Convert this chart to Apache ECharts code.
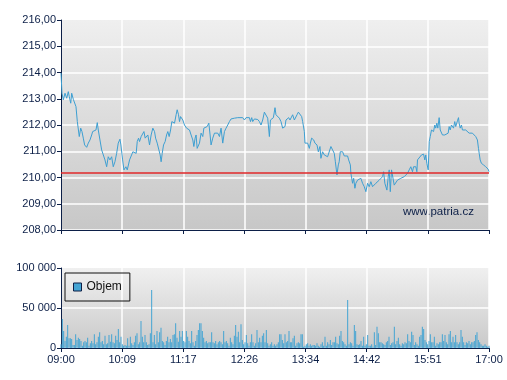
<!DOCTYPE html>
<html><head><meta charset="utf-8">
<script src="https://cdn.jsdelivr.net/npm/echarts@6/dist/echarts.min.js"></script>
<style>html,body{margin:0;padding:0;background:#fff}#c{width:507px;height:380px}</style>
</head><body><div id="c"></div>
<script>
// Time axis tick labels (session 09:00 - 17:00, 480 minutes split into 7 intervals)
const timeTickLabels = ['09:00','10:09','11:17','12:26','13:34','14:42','15:51','17:00'];
const sessionMinutes = 480;

// Price line: minutes after 09:00 and price
const priceTime = [0,1.1,2.6,4.5,6.4,8.2,9.3,10.9,12.0,13.8,15.7,16.8,18.3,19.4,20.5,22.1,23.5,25.0,26.5,28.8,30.6,32.5,34.4,35.5,37.0,39.2,40.7,41.8,43.7,45.6,47.4,49.3,51.2,53.0,54.9,56.8,58.6,60.5,62.4,64.2,66.1,67.2,69.1,70.6,72.8,74.3,
76.9,78.7,80.6,82.5,84.3,85.5,87.0,88.1,89.9,91.8,93.0,94.4,97.4,99.3,101.1,103.0,104.9,106.1,107.9,109.8,111.2,112.3,113.5,115.0,116.8,118.4,119.8,121.3,122.9,124.3,125.8,127.3,129.1,130.3,131.8,132.9,134.1,135.5,136.6,138.5,139.7,140.8,142.2,144.1,145.9,147.8,149.0,150.4,151.5,152.7,
155.3,157.1,159.0,160.2,161.6,163.9,165.8,167.2,168.3,170.2,172.1,173.9,175.8,177.7,179.5,181.4,183.3,185.1,187.0,188.9,190.7,192.6,194.5,196.3,198.2,203.8,205.7,207.5,211.3,212.5,213.9,215.0,216.9,218.7,220.6,222.5,224.3,226.2,228.1,229.9,231.8,
233.7,234.9,236.3,238.2,240.0,241.1,243.0,244.9,246.7,248.6,249.8,251.2,252.3,254.2,255.4,256.8,258.7,259.8,261.7,263.5,264.7,266.2,268.0,269.9,271.0,272.9,273.6,276.6,278.5,279.7,281.1,283.4,284.8,287.1,288.6,290.4,291.5,293.4,295.3,297.1,299.0,300.9,302.7,304.6,306.5,307.7,308.8,309.5,
311.0,312.0,313.2,315.8,317.7,321.4,322.6,324.5,325.1,327.0,328.2,329.6,330.7,332.6,334.5,336.3,338.2,340.1,341.9,343.8,345.7,347.5,349.4,351.3,353.1,355.0,356.9,358.7,360.6,361.8,363.2,365.5,367.0,368.1,369.3,370.7,371.8,373.7,375.5,377.4,379.3,381.1,383.0,384.9,386.7,388.6,
390.5,392.3,394.2,395.4,397.9,399.1,399.8,401.7,404.3,406.6,408.0,409.1,410.3,411.8,413.0,414.1,415.5,416.6,417.8,419.2,420.3,421.5,422.6,424.1,425.3,427.8,429.0,430.4,431.5,434.2,435.3,436.5,437.9,439.0,440.2,441.6,442.7,444.6,445.8,446.5,447.7,449.1,450.2,452.1,453.9,455.8,457.7,459.5,461.4,463.3,465.1,467.0,468.2,469.0,470.1,471.5,473.8,476.3,479.0,480];
const priceValue = [213.98,213.21,212.96,213.21,213.02,213.27,213.08,212.83,213.21,212.98,212.98,212.70,212.13,212.07,211.56,211.88,211.75,211.50,211.24,211.15,211.31,211.43,211.62,211.75,211.71,211.81,212.09,211.81,211.43,211.05,210.98,210.67,210.41,210.79,210.67,210.79,210.41,210.60,210.92,211.31,211.46,211.24,210.67,210.29,210.41,210.29,
210.67,210.73,210.98,210.96,210.92,211.37,211.50,211.37,211.56,211.62,211.75,211.50,211.62,211.24,211.62,211.88,211.75,211.50,211.31,211.05,210.86,210.60,210.92,211.24,211.37,211.62,211.75,211.56,211.81,212.13,212.19,212.07,212.39,212.58,212.39,212.13,212.32,212.26,212.19,212.00,212.07,211.88,211.94,211.81,211.62,211.43,211.18,211.50,211.62,211.11,
211.31,211.69,211.56,211.88,211.81,211.94,212.07,211.62,211.24,211.50,211.69,211.62,211.69,211.56,211.88,211.31,211.75,211.88,212.00,212.13,212.23,212.19,212.26,212.19,212.28,212.28,212.19,212.28,212.28,212.13,212.28,212.13,212.23,212.16,212.21,212.13,212.00,212.19,212.49,212.49,212.26,
211.56,212.19,212.26,212.28,212.66,212.39,212.39,212.26,212.13,211.88,211.81,211.94,212.19,212.19,212.28,212.19,212.26,212.39,212.19,212.19,212.39,212.49,212.49,212.32,212.13,211.75,211.31,211.31,211.11,211.31,211.50,211.43,211.31,211.24,210.98,211.18,210.73,210.98,210.86,210.79,210.79,210.86,211.18,211.05,210.92,210.60,210.29,210.10,
210.48,210.60,210.98,210.98,210.82,210.82,210.67,210.48,210.16,209.78,209.97,209.59,209.78,209.90,209.84,209.97,209.78,209.65,209.46,209.78,209.65,209.84,209.65,209.59,209.78,209.84,209.90,209.84,210.03,210.22,209.78,209.52,210.03,210.29,209.46,210.29,210.22,209.71,209.78,209.90,209.84,209.97,209.90,210.03,209.97,210.16,
210.29,210.41,210.22,210.41,210.41,210.22,210.67,210.73,210.86,210.89,210.67,210.86,210.54,210.29,211.37,211.56,211.81,211.88,211.75,212.00,211.88,212.07,211.88,212.28,211.81,211.62,211.69,211.62,211.56,211.69,211.94,211.81,212.00,212.07,211.88,212.13,211.94,212.16,212.28,212.07,211.88,212.00,211.81,211.88,211.81,211.81,211.69,211.62,211.69,211.62,211.56,211.43,211.11,210.92,210.67,210.54,210.48,210.41,210.32,210.22];

// Reference (previous close) price line
const referencePrice = 210.2;

// Traded volume per interval, in thousands, evenly spaced across the session
const volumeThousands = [4.6,36.3,21.3,8.8,14.2,28.8,12.1,12.1,11.3,3.8,3.8,17.1,10,12.9,11.3,8.8,2.9,7.1,8.8,7.1,12.9,2.9,5.8,8.8,5.8,17.1,4.6,7.1,14.2,19.6,7.1,8.8,4.6,15.4,4.6,5.8,16.3,7.9,17.1,7.1,5.8,15.4,10,23.8,7.1,14.2,4.6,2.9,3.8,2.9,12.1,2.9,14.2,5.8,3.8,7.1,15.4,18.3,4.6,7.1,33.8,14.2,7.1,16.3,7.1,3.8,4.6,18.3,72.5,7.1,16.3,4.6,21.3,7.1,19.6,25.4,8.8,7.1,3.8,8.8,14.2,7.1,11.3,7.1,16.3,17.1,30.8,12.9,7.9,21.3,14.2,21.3,8.8,7.1,21.3,14.2,8.8,5.8,21.3,7.1,2.9,8.8,16.3,22.5,30.8,30.8,21.3,12.9,7.1,8.8,5.8,7.1,7.1,19.6,7.1,5.8,8.8,4.6,7.1,8.8,7.1,4.6,21.3,7.1,8.8,5.8,2.9,12.9,7.1,4.6,15.4,28.8,14.2,20.4,7.1,29.6,10,4.6,7.1,16.3,5.8,2.9,7.1,
17.1,7.1,2.9,5.8,22.5,7.1,12.9,7.1,15.4,18.3,7.1,22.5,5.8,2.9,4.6,7.1,2.9,4.6,2.9,4.6,7.1,17.1,17.1,10,5.8,17.1,7.1,8.8,21.3,7.1,7.1,12.1,15.4,2.9,5.8,7.1,5.8,17.1,17.1,1.7,2.9,4.6,5.8,2.9,4.6,2.9,3.8,3.8,2.9,5.8,2.9,1.7,4.6,7.1,2.9,14.2,2.9,7.1,4.6,10,3.8,7.1,7.1,14.2,5.8,4.6,15.4,21.3,8.8,7.1,4.6,2.9,60,4.6,7.1,5.8,2.9,28.8,21.3,4.6,3.8,4.6,8.8,2.9,14.2,2.9,4.6,16.3,2.9,2.9,4.6,1.7,19.6,3.8,26.7,18.3,7.1,7.1,5.8,4.6,3.8,7.1,8.8,14.2,3.8,5.8,7.1,26.7,4.6,8.8,12.9,4.6,2.9,5.8,4.6,7.1,5.8,17.1,8.8,7.1,20.4,16.3,3.8,7.1,4.6,2.9,14.2,16.3,26.7,23.8,10,7.1,4.6,8.8,17.1,7.1,7.1,14.2,2.9,5.8,4.6,7.1,7.1,17.1,8.8,16.3,7.1,4.6,17.1,21.3,7.1,14.2,7.1,16.3,7.1,4.6,7.1,22.5,14.2,7.1,3.8,7.1,5.8,8.8,4.6,7.1,7.1,8.8,16.3,19.6,10,7.1,4.6,2.9,2.9,4.6,2.9,1.7,2.9];

const chart = echarts.init(document.getElementById('c'), null, {renderer:'canvas'});
const navy = '#0c1f47';
const font = "'Liberation Sans', Arial, sans-serif";
const step = sessionMinutes / (timeTickLabels.length - 1);
const timeLabel = v => timeTickLabels[Math.round(v / step)] || '';
const priceData = priceTime.map((t, i) => [t, priceValue[i]]);
const volumeData = volumeThousands.map((v, i) => [i * sessionMinutes / (volumeThousands.length - 1), v * 1000]);

const grad = (a, b) => new echarts.graphic.LinearGradient(0, 0, 0, 1, [{offset:0,color:a},{offset:1,color:b}]);
const axisCommon = {
  axisLine:{show:true,lineStyle:{color:navy,width:1}},
  axisTick:{show:true,length:4,lineStyle:{color:navy,width:1}},
  splitLine:{show:true,showMaxLine:false,lineStyle:{color:'#ffffff',width:1.5}}
};
const labelStyle = {color:navy,fontSize:11,fontFamily:font};

chart.setOption({
  animation:false,
  backgroundColor:'#ffffff',
  grid:[
    {left:61,right:18,top:20,height:210,show:true,borderWidth:0,backgroundColor:grad('#efefef','#c7c7c7')},
    {left:61,right:18,top:268,height:80,show:true,borderWidth:0,backgroundColor:grad('#f0f0f0','#c9c9c9')}
  ],
  xAxis:[
    Object.assign({type:'value',gridIndex:0,min:0,max:sessionMinutes,interval:step,axisLabel:{show:false}}, axisCommon),
    Object.assign({type:'value',gridIndex:1,min:0,max:sessionMinutes,interval:step,
      axisLabel:Object.assign({show:true,margin:6,formatter:timeLabel}, labelStyle)}, axisCommon)
  ],
  yAxis:[
    Object.assign({type:'value',gridIndex:0,min:208,max:216,interval:1,
      axisLabel:Object.assign({margin:5,formatter:v => v.toFixed(2).replace('.', ',')}, labelStyle)}, axisCommon),
    Object.assign({type:'value',gridIndex:1,min:0,max:100000,interval:50000,
      axisLabel:Object.assign({margin:5,formatter:v => String(v).replace(/\B(?=(\d{3})+(?!\d))/g, ' ')}, labelStyle)}, axisCommon)
  ],
  legend:{
    data:['Objem'],left:65,top:273,padding:[8,8,8,8],itemWidth:8,itemHeight:8,itemGap:5,
    borderColor:'#111',borderWidth:1,icon:'rect',
    itemStyle:{borderColor:navy,borderWidth:1},
    textStyle:{fontSize:12,color:'#111',fontFamily:font}
  },
  series:[
    {type:'line',name:'Cena',xAxisIndex:0,yAxisIndex:0,data:priceData,symbol:'none',
      lineStyle:{color:'#3d9fd2',width:1},
      markLine:{silent:true,symbol:'none',label:{show:false},
        lineStyle:{color:'#e0282a',width:1.5,type:'solid'},data:[{yAxis:referencePrice}]}},
    {type:'bar',name:'Objem',xAxisIndex:1,yAxisIndex:1,data:volumeData,barWidth:1,
      itemStyle:{color:'#44a4d3'}}
  ],
  graphic:[
    {type:'text',left:403,top:206,style:{text:'www.patria.cz',fill:navy,font:"11.5px 'Liberation Sans', Arial, sans-serif"}}
  ]
});
</script></body></html>
